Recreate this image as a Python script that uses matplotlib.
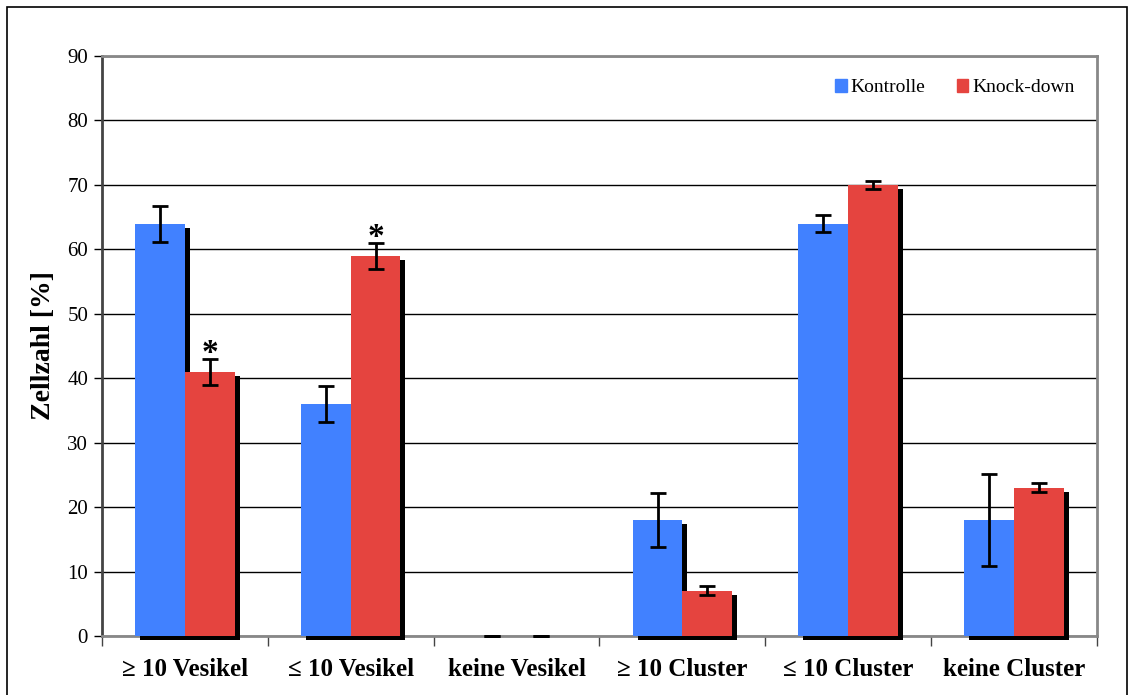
import numpy as np
import matplotlib.pyplot as plt
import matplotlib.patheffects as pe
from matplotlib.patches import Rectangle, Patch

plt.rcParams['font.family'] = ['Liberation Serif', 'DejaVu Serif']

categories = ['≥ 10 Vesikel', '≤ 10 Vesikel', 'keine Vesikel',
              '≥ 10 Cluster', '≤ 10 Cluster', 'keine Cluster']
kontrolle = [64, 36, 0, 18, 64, 18]
kontrolle_err = [2.8, 2.8, 0, 4.2, 1.3, 7.1]
knockdown = [41, 59, 0, 7, 70, 23]
knockdown_err = [2.0, 2.0, 0, 0.7, 0.6, 0.7]
signif = [True, True, False, False, False, False]

blue = '#4181FF'
red = '#E5443F'

fig = plt.figure(figsize=(11.31, 6.95), dpi=100)
ax = fig.add_axes([102/1131, 1-636/695, 995/1131, 580/695])

x = np.arange(len(categories))
w = 0.3
shadow = [pe.SimplePatchShadow(offset=(3.5, -3), shadow_rgbFace='black', alpha=1), pe.Normal()]

b1 = ax.bar(x - w/2, kontrolle, w, color=blue, zorder=3, clip_on=False)
b2 = ax.bar(x + w/2, knockdown, w, color=red, zorder=3, clip_on=False)
for b in list(b1) + list(b2):
    b.set_path_effects(shadow)

ax.errorbar(x - w/2, kontrolle, yerr=kontrolle_err, fmt='none', ecolor='black',
            elinewidth=2, capsize=5.8, capthick=2, zorder=5, clip_on=False)
ax.errorbar(x + w/2, knockdown, yerr=knockdown_err, fmt='none', ecolor='black',
            elinewidth=2, capsize=5.8, capthick=2, zorder=5, clip_on=False)

for i in range(len(categories)):
    if signif[i]:
        ax.text(x[i] + w/2, knockdown[i] + knockdown_err[i] + 0.9, '*', ha='center',
                va='center', fontsize=24, fontweight='bold', zorder=6)

ax.set_xlim(-0.5, 5.5)
ax.set_ylim(0, 90)
ax.set_yticks(np.arange(0, 91, 10))
ax.tick_params(axis='y', labelsize=15, length=6, width=1, direction='out', pad=4)

ax.set_xticks(np.arange(-0.5, 6, 1))
ax.set_xticklabels([])
ax.tick_params(axis='x', which='major', length=7, width=1, color='#444444')
ax.set_xticks(x, minor=True)
ax.set_xticklabels(categories, minor=True, fontsize=18, fontweight='bold')
ax.tick_params(axis='x', which='minor', length=0, pad=16)

ax.yaxis.grid(True, color='black', linewidth=1, zorder=0)
ax.set_axisbelow(True)
for s in ['top', 'right', 'bottom']:
    ax.spines[s].set_color('#888888')
    ax.spines[s].set_linewidth(2)
ax.spines['left'].set_color('#444444')
ax.spines['left'].set_linewidth(2)

ax.set_ylabel('Zellzahl [%]', fontsize=20, fontweight='bold', labelpad=8)

handles = [Patch(color=blue, label='Kontrolle'), Patch(color=red, label='Knock-down')]
ax.legend(handles=handles, loc='upper right', bbox_to_anchor=(0.995, 0.99), frameon=False,
          fontsize=14, handlelength=0.6, handleheight=0.6, handletextpad=0.2,
          columnspacing=1.6, ncol=2)

fig.patches.append(Rectangle((7/1131, -0.05), 1120/1131, 1.05 - 7/695, transform=fig.transFigure,
                             fill=False, edgecolor='black', linewidth=1.2))

fig.savefig('out.png', dpi=100)
